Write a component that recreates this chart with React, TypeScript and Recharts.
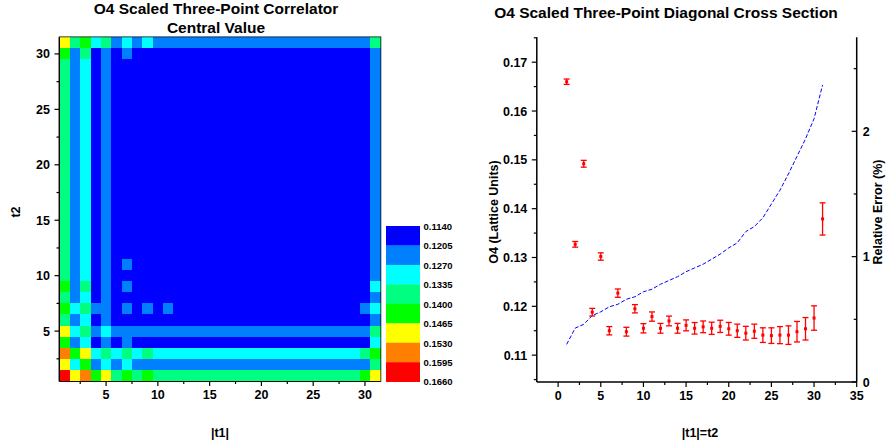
import {
  ScatterChart,
  Scatter,
  XAxis,
  YAxis,
  ReferenceArea,
  ComposedChart,
  Line,
  ErrorBar,
} from "recharts";

const FONT = "Arial, 'Liberation Sans', sans-serif";

// colour scale of the correlator map, lowest level first
const LEVEL_BOUNDS = [0.114, 0.1205, 0.127, 0.1335, 0.14, 0.1465, 0.153, 0.1595, 0.166];
const LEVEL_COLORS = ["#0000ff", "#0080ff", "#00ffff", "#00ff80", "#00ff00", "#ffff00", "#ff8000", "#ff0000"];

// level index per cell; one string per t2 row, from t2 = 31 down to t2 = 1,
// columns are |t1| = 1..31 (spaces only group the columns by five)
const MAP_ROWS = [
  "53423 12121 11111 11111 11111 11111 3", // 31
  "41301 01000 00000 00000 00000 00000 1", // 30
  "31201 00000 00000 00000 00000 00000 1", // 29
  "31201 00000 00000 00000 00000 00000 1", // 28
  "31201 00000 00000 00000 00000 00000 1", // 27
  "31201 00000 00000 00000 00000 00000 1", // 26
  "31201 00000 00000 00000 00000 00000 1", // 25
  "31201 00000 00000 00000 00000 00000 1", // 24
  "31201 00000 00000 00000 00000 00000 1", // 23
  "31201 00000 00000 00000 00000 00000 1", // 22
  "31201 00000 00000 00000 00000 00000 1", // 21
  "31201 00000 00000 00000 00000 00000 1", // 20
  "31201 00000 00000 00000 00000 00000 1", // 19
  "31201 00000 00000 00000 00000 00000 1", // 18
  "31201 00000 00000 00000 00000 00000 1", // 17
  "31201 00000 00000 00000 00000 00000 1", // 16
  "31201 00000 00000 00000 00000 00000 1", // 15
  "31201 00000 00000 00000 00000 00000 1", // 14
  "31201 00000 00000 00000 00000 00000 1", // 13
  "31201 00000 00000 00000 00000 00000 1", // 12
  "31201 01000 00000 00000 00000 00000 1", // 11
  "31201 00000 00000 00000 00000 00000 1", // 10
  "41301 01000 00000 00000 00000 00000 2", // 9
  "31201 00000 00000 00000 00000 00000 1", // 8
  "42311 01010 10000 00000 00000 00001 2", // 7
  "31201 00000 00000 00000 00000 00000 1", // 6
  "52312 11111 11111 11111 11111 11111 3", // 5
  "41201 01000 00000 00000 00000 00000 2", // 4
  "64523 23232 22222 22222 22222 22223 4", // 3
  "52412 12111 11111 11111 11111 11111 3", // 2
  "75645 34343 33333 33333 33333 33334 5", // 1
];

// diagonal |t1| = t2
const T_DIAG = [1, 2, 3, 4, 5, 6, 7, 8, 9, 10, 11, 12, 13, 14, 15, 16, 17, 18, 19, 20, 21, 22, 23, 24, 25, 26, 27, 28, 29, 30, 31];
const O4_DIAG = [
  0.166, 0.1327, 0.1492, 0.1188, 0.1302, 0.115, 0.1227, 0.1148, 0.1195, 0.1155,
  0.1179, 0.1155, 0.117, 0.1155, 0.1161, 0.1155, 0.1158, 0.1155, 0.1159, 0.1154,
  0.115, 0.1145, 0.1149, 0.1141, 0.114, 0.1141, 0.1141, 0.1148, 0.1154, 0.1176, 0.1379,
];
const O4_ERR = [
  0.00055, 0.00058, 0.0007, 0.00078, 0.00075, 0.00085, 0.00085, 0.0009, 0.00085, 0.00095,
  0.00095, 0.001, 0.001, 0.001, 0.00112, 0.00118, 0.0012, 0.00125, 0.00125, 0.0013,
  0.00135, 0.0014, 0.00145, 0.0015, 0.0016, 0.00175, 0.0019, 0.0021, 0.0023, 0.0025, 0.0033,
];
const REL_ERR = [
  0.3, 0.43, 0.46, 0.53, 0.56, 0.6, 0.62, 0.66, 0.68, 0.72,
  0.74, 0.78, 0.81, 0.84, 0.88, 0.91, 0.94, 0.98, 1.02, 1.07,
  1.11, 1.2, 1.24, 1.31, 1.42, 1.53, 1.66, 1.8, 1.94, 2.1, 2.37,
];

const MAP_TICKS = [2.5, 5, 7.5, 10, 12.5, 15, 17.5, 20, 22.5, 25, 27.5, 30];
const DIAG_X_TICKS = [0, 2.5, 5, 7.5, 10, 12.5, 15, 17.5, 20, 22.5, 25, 27.5, 30, 32.5, 35];
const O4_TICKS = [0.105, 0.11, 0.115, 0.12, 0.125, 0.13, 0.135, 0.14, 0.145, 0.15, 0.155, 0.16, 0.165, 0.17, 0.175];
const REL_TICKS = [0, 0.5, 1, 1.5, 2, 2.5];

const MAP_CELLS = MAP_ROWS.flatMap((row, i) => {
  const t2 = MAP_ROWS.length - i;
  return row
    .replace(/ /g, "")
    .split("")
    .map((c, j) => ({ t1: j + 1, t2, level: Number(c) }));
});

const DIAG = T_DIAG.map((t, i) => ({ t, o4: O4_DIAG[i], err: O4_ERR[i], rel: REL_ERR[i] }));

// heat map frame
const HM_W = 440;
const HM_H = 442;
const HM_MARGIN = { top: 37.3, right: 59.5, bottom: 0, left: 0 };
const HM_YAXIS_W = 59.5;
const HM_XAXIS_H = 61;
const HM_PLOT_W = HM_W - HM_MARGIN.left - HM_MARGIN.right - HM_YAXIS_W;
const HM_PLOT_H = HM_H - HM_MARGIN.top - HM_MARGIN.bottom - HM_XAXIS_H;
const CELL_W = HM_PLOT_W / MAP_ROWS.length;
const CELL_H = HM_PLOT_H / MAP_ROWS.length;

const RED = "#ff0000";
const tickText = { fontFamily: FONT, fontSize: 12.5, fontWeight: 700, fill: "#000" };
const axisStroke = { stroke: "#000", strokeWidth: 1.5 };

const onStep = (v: number, step: number) => Math.abs(v / step - Math.round(v / step)) < 1e-6;

const bottomTick = (step: number, fmt: (v: number) => string) => (p: any) => {
  const { x, y, payload } = p;
  const major = onStep(payload.value, step);
  return (
    <g>
      <line x1={x} x2={x} y1={y} y2={y + (major ? 5 : 3)} stroke="#000" strokeWidth={1.2} />
      {major && (
        <text x={x} y={y + 17.5} textAnchor="middle" style={tickText}>
          {fmt(payload.value)}
        </text>
      )}
    </g>
  );
};

const leftTick = (step: number, fmt: (v: number) => string) => (p: any) => {
  const { x, y, payload } = p;
  const major = onStep(payload.value, step);
  return (
    <g>
      <line x1={x} x2={x - (major ? 5 : 3)} y1={y} y2={y} stroke="#000" strokeWidth={1.2} />
      {major && (
        <text x={x - 9.5} y={y} dy="0.36em" textAnchor="end" style={tickText}>
          {fmt(payload.value)}
        </text>
      )}
    </g>
  );
};

// right axis ticks point into the plot
const rightTick = (step: number, fmt: (v: number) => string) => (p: any) => {
  const { x, y, payload } = p;
  const major = onStep(payload.value, step);
  return (
    <g>
      <line x1={x} x2={x - (major ? 5 : 3)} y1={y} y2={y} stroke="#000" strokeWidth={1.2} />
      {major && (
        <text x={x + 6} y={y} dy="0.36em" textAnchor="start" style={tickText}>
          {fmt(payload.value)}
        </text>
      )}
    </g>
  );
};

const HeatCell = (p: any) => (
  <rect
    x={p.cx - CELL_W / 2}
    y={p.cy - CELL_H / 2}
    width={CELL_W}
    height={CELL_H}
    fill={LEVEL_COLORS[p.payload.level]}
    shapeRendering="crispEdges"
  />
);

const Marker = (p: any) => <rect x={p.cx - 1.5} y={p.cy - 1.5} width={3} height={3} fill={RED} />;

const titleStyle = { fontFamily: FONT, fontSize: 15.5, fontWeight: 700, fill: "#000" };
const axisTitleStyle = { fontFamily: FONT, fontSize: 12.5, fontWeight: 700, fill: "#000" };
const legendStyle = { fontFamily: FONT, fontSize: 9.5, fontWeight: 700, fill: "#000" };

const LEG_X = 386;
const LEG_Y = 226;
const LEG_W = 34;
const LEG_H = 19.46;

export default function App() {
  return (
    <div style={{ position: "absolute", left: 0, top: 0, width: 886, height: 442, background: "#fff" }}>
      <div style={{ position: "absolute", left: 0, top: 0 }}>
        <ScatterChart width={HM_W} height={HM_H} margin={HM_MARGIN}>
          <XAxis
            dataKey="t1"
            type="number"
            domain={[0.5, 31.5]}
            allowDataOverflow
            ticks={MAP_TICKS}
            interval={0}
            height={HM_XAXIS_H}
            tickSize={0}
            tickMargin={0}
            tickLine={false}
            axisLine={axisStroke}
            tick={bottomTick(5, (v) => String(v))}
          />
          <YAxis
            dataKey="t2"
            type="number"
            domain={[0.5, 31.5]}
            allowDataOverflow
            ticks={MAP_TICKS}
            interval={0}
            width={HM_YAXIS_W}
            tickSize={0}
            tickMargin={0}
            tickLine={false}
            axisLine={axisStroke}
            tick={leftTick(5, (v) => String(v))}
          />
          <Scatter data={MAP_CELLS} shape={HeatCell} isAnimationActive={false} />
          <ReferenceArea x1={0.5} x2={31.5} y1={0.5} y2={31.5} fill="none" stroke="#000" strokeWidth={1.5} />
        </ScatterChart>
      </div>

      <div style={{ position: "absolute", left: 440, top: 0 }}>
        <ComposedChart width={446} height={442} data={DIAG} margin={{ top: 37.3, right: 0, bottom: 0, left: 0 }}>
          <XAxis
            dataKey="t"
            type="number"
            domain={[-2.5, 35]}
            allowDataOverflow
            ticks={DIAG_X_TICKS}
            interval={0}
            height={60}
            tickSize={0}
            tickMargin={0}
            tickLine={false}
            axisLine={axisStroke}
            tick={bottomTick(5, (v) => String(v))}
          />
          <YAxis
            yAxisId="o4"
            type="number"
            domain={[0.1045, 0.1751]}
            allowDataOverflow
            ticks={O4_TICKS}
            interval={0}
            width={96.8}
            tickSize={0}
            tickMargin={0}
            tickLine={false}
            axisLine={axisStroke}
            tick={leftTick(0.01, (v) => v.toFixed(2))}
          />
          <YAxis
            yAxisId="rel"
            orientation="right"
            type="number"
            domain={[0, 2.75]}
            allowDataOverflow
            ticks={REL_TICKS}
            interval={0}
            width={29.3}
            tickSize={0}
            tickMargin={0}
            tickLine={false}
            axisLine={axisStroke}
            tick={rightTick(1, (v) => String(v))}
          />
          <Line
            yAxisId="rel"
            dataKey="rel"
            type="linear"
            stroke="#0000ff"
            strokeWidth={1}
            strokeDasharray="4 2"
            dot={false}
            isAnimationActive={false}
          />
          <Scatter yAxisId="o4" dataKey="o4" fill={RED} stroke={RED} shape={Marker} isAnimationActive={false}>
            <ErrorBar
              dataKey="err"
              direction="y"
              width={3}
              stroke={RED}
              strokeWidth={1.3}
              style={{ stroke: RED }}
              isAnimationActive={false}
            />
          </Scatter>
        </ComposedChart>
      </div>

      <svg width={886} height={442} style={{ position: "absolute", left: 0, top: 0, pointerEvents: "none" }}>
        <text x={216} y={14} textAnchor="middle" style={titleStyle}>
          O4 Scaled Three-Point Correlator
        </text>
        <text x={216} y={33} textAnchor="middle" style={titleStyle}>
          Central Value
        </text>
        <text x={666} y={18} textAnchor="middle" style={titleStyle}>
          O4 Scaled Three-Point Diagonal Cross Section
        </text>

        <text transform="translate(19.5,212) rotate(-90)" textAnchor="middle" style={axisTitleStyle}>
          t2
        </text>
        <text x={220} y={436.5} textAnchor="middle" style={axisTitleStyle}>
          |t1|
        </text>
        <text transform="translate(497.5,212) rotate(-90)" textAnchor="middle" style={axisTitleStyle}>
          O4 (Lattice Units)
        </text>
        <text transform="translate(882,212) rotate(-90)" textAnchor="middle" style={axisTitleStyle}>
          Relative Error (%)
        </text>
        <text x={700} y={436.5} textAnchor="middle" style={axisTitleStyle}>
          |t1|=t2
        </text>

        {LEVEL_COLORS.map((c, i) => (
          <rect key={c} x={LEG_X} y={LEG_Y + i * LEG_H} width={LEG_W} height={LEG_H + 0.3} fill={c} />
        ))}
        {LEVEL_BOUNDS.map((b, i) => (
          <text key={b} x={LEG_X + LEG_W + 3.5} y={LEG_Y + i * LEG_H} dy="0.4em" style={legendStyle}>
            {b.toFixed(4)}
          </text>
        ))}
      </svg>
    </div>
  );
}
